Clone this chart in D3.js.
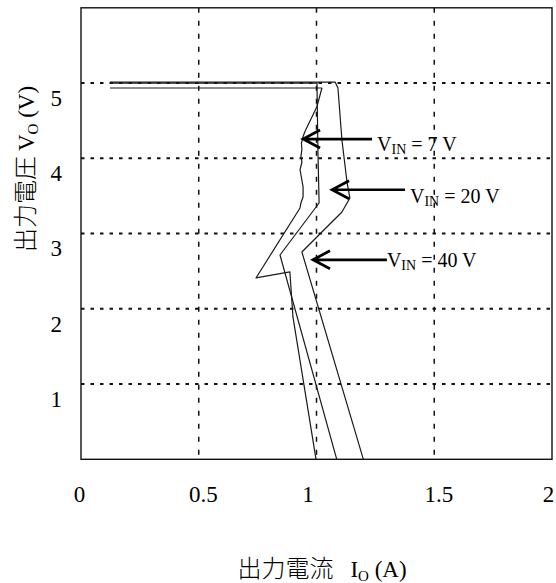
<!DOCTYPE html>
<html>
<head>
<meta charset="utf-8">
<script src="https://cdn.jsdelivr.net/npm/d3@7"></script>
<style>
  body { margin: 0; background: white; }
  svg text { font-family: "Liberation Serif", "Noto Sans CJK JP", serif; fill: black; }
</style>
</head>
<body>
<div id="chart"></div>
<script>
// axis ticks: output current (A) and output voltage (V)
const currentTicks = [0, 0.5, 1, 1.5, 2];
const currentGrid = [0.5, 1, 1.5];
const voltageTicks = [1, 2, 3, 4, 5];

// foldback curves, [Io, Vo]
const vin7 = [[0.123, 4.934], [1.023, 4.934], [1.002, 4.688], [0.951, 4.356], [0.943, 4.29],
    [0.936, 4.2], [0.938, 4.117], [0.934, 4.03], [0.938, 3.944], [0.93, 3.85], [0.934, 3.778],
    [0.943, 3.62], [0.943, 3.486], [0.934, 3.41], [0.93, 3.34], [0.743, 2.41], [0.887, 2.49],
    [0.9, 1.893], [0.998, 0]];
const vin20 = [[0.123, 5.0], [1.002, 5.0], [1.006, 4.11], [1.011, 3.406], [0.845, 2.715], [1.086, 0]];
const vin40 = [[0.123, 5.013], [1.079, 5.013], [1.091, 4.934], [1.108, 4.243], [1.13, 3.672],
    [1.142, 3.472], [1.108, 3.286], [0.938, 2.755], [1.199, 0]];

// arrow annotations
const curveLabels = ["7", "20", "40"];
const arrowTips = [[0.943, 4.256], [1.066, 3.582], [0.985, 2.651]];
const arrowTails = [1.236, 1.376, 1.299];
const labelSpots = [[1.257, 4.097], [1.397, 3.409], [1.299, 2.559]];

const width = 556, height = 583;
const svg = d3.select("#chart").append("svg")
    .attr("width", width).attr("height", height)
    .style("background-color", "white");

const x = d3.scaleLinear().domain([0, 2]).range([81, 552]);
const y = d3.scaleLinear().domain([0, 6]).range([459.3, 7.8]);

//grid lines: dashed verticals, dotted horizontals
svg.append("g").selectAll("line")
    .data(currentGrid)
    .enter().append("line")
    .attr("x1", d => x(d)).attr("x2", d => x(d))
    .attr("y1", y(6)).attr("y2", y(0))
    .attr("stroke", "#111").attr("stroke-width", 1.5)
    .attr("stroke-dasharray", "5,8");

svg.append("g").selectAll("line")
    .data(voltageTicks)
    .enter().append("line")
    .attr("x1", x(0)).attr("x2", x(2))
    .attr("y1", d => y(d)).attr("y2", d => y(d))
    .attr("stroke", "#111").attr("stroke-width", 2)
    .attr("stroke-dasharray", "3.5,6");

//frame
svg.append("rect")
    .attr("x", x(0)).attr("y", y(6))
    .attr("width", x(2) - x(0)).attr("height", y(0) - y(6))
    .attr("fill", "none").attr("stroke", "#111").attr("stroke-width", 1.4);

//tick labels
const xAxis = svg.append("g")
    .attr("transform", "translate(0," + y(0) + ")")
    .call(d3.axisBottom(x).tickValues(currentTicks).tickSize(0).tickFormat(d3.format("")));
xAxis.select(".domain").remove();
xAxis.selectAll("text")
    .attr("y", 43).attr("dy", null)
    .attr("x", (d, i) => i == currentTicks.length - 1 ? -4 : (d == 1 ? -9 : (d == 0 ? -2 : 4)))
    .style("font-size", "23px");

const yAxis = svg.append("g")
    .attr("transform", "translate(" + x(0) + ",0)")
    .call(d3.axisLeft(y).tickValues(voltageTicks).tickSize(0).tickFormat(d3.format("")));
yAxis.select(".domain").remove();
yAxis.selectAll("text")
    .attr("x", -19).attr("y", 15)
    .style("font-size", "23px");

//curves
const line = d3.line().x(d => x(d[0])).y(d => y(d[1]));
svg.append("g").selectAll("path")
    .data([vin7, vin20, vin40])
    .enter().append("path")
    .attr("d", line)
    .attr("fill", "none")
    .attr("stroke", "#1a1a1a")
    .attr("stroke-width", 1.2)
    .attr("stroke-linejoin", "round");

//arrows pointing at each curve
const notes = curveLabels.map((v, i) => ({v: v, tip: arrowTips[i], tail: arrowTails[i], spot: labelSpots[i]}));
const g = svg.append("g");
g.selectAll("path.arrow")
    .data(notes)
    .enter().append("path")
    .attr("class", "arrow")
    .attr("d", d => {
        const tx = x(d.tip[0]), ty = y(d.tip[1]);
        return "M" + x(d.tail) + "," + ty + "H" + tx +
            "M" + (tx + 17) + "," + (ty - 9) + "L" + tx + "," + ty + "L" + (tx + 17) + "," + (ty + 9);
    })
    .attr("fill", "none").attr("stroke", "black").attr("stroke-width", 2.7);

const labels = g.selectAll("text")
    .data(notes)
    .enter().append("text")
    .attr("x", d => x(d.spot[0]))
    .attr("y", d => y(d.spot[1]))
    .style("font-size", "20px");
labels.append("tspan").text("V");
labels.append("tspan").attr("dy", 3).style("font-size", "14px").text("IN");
labels.append("tspan").attr("dy", -3).text(d => " = " + d.v + " V");

//axis titles
const xt = svg.append("text")
    .attr("x", 322).attr("y", 577)
    .attr("text-anchor", "middle")
    .style("font-size", "23px");
xt.append("tspan").style("font-weight", 300).style("font-size", "24px").text("出力電流");
xt.append("tspan").attr("dx", 17).text("I");
xt.append("tspan").attr("dy", 4).style("font-size", "15px").text("O");
xt.append("tspan").attr("dy", -4).text(" (A)");

const yt = svg.append("text")
    .attr("transform", "translate(34,169) rotate(-90)")
    .attr("text-anchor", "middle")
    .style("font-size", "23px");
yt.append("tspan").style("font-weight", 300).style("font-size", "24px").text("出力電圧");
yt.append("tspan").attr("dx", 5).text("V");
yt.append("tspan").attr("dy", 4).style("font-size", "15px").text("O");
yt.append("tspan").attr("dy", -4).text(" (V)");
</script>
</body>
</html>
